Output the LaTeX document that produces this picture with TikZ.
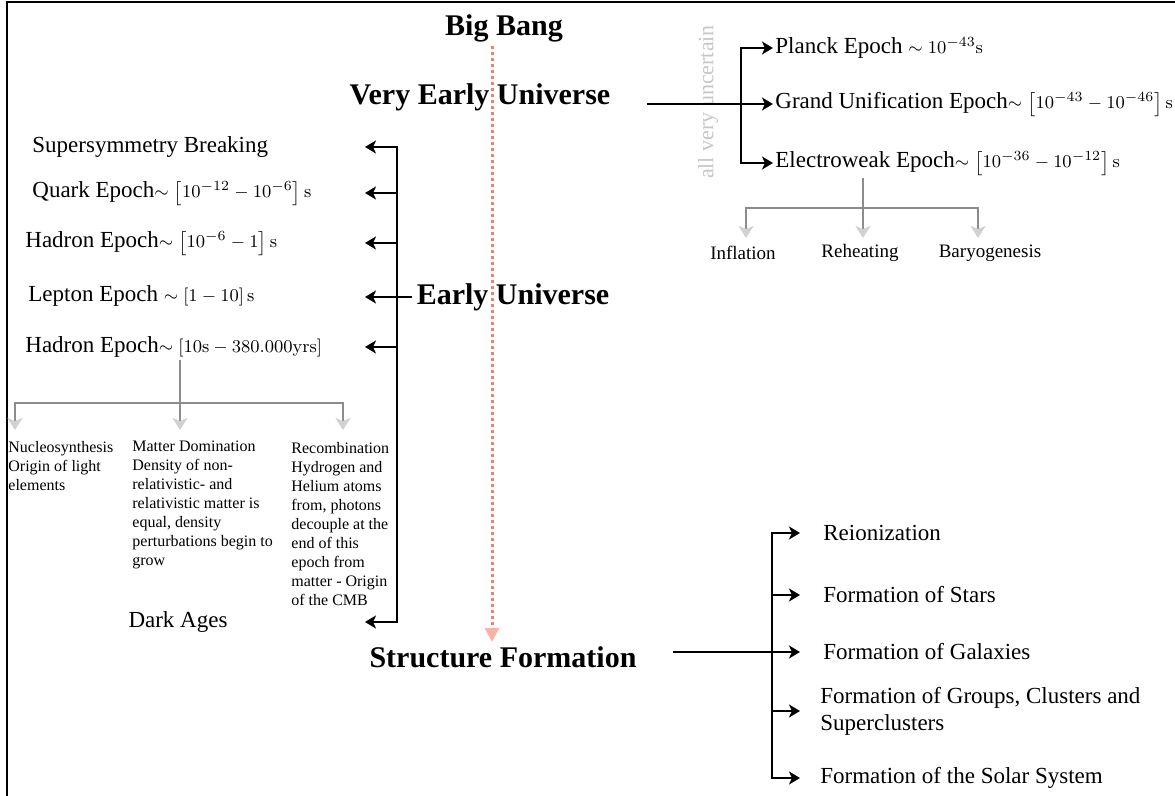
\documentclass[tikz,border=0pt]{standalone}
\usepackage[no-math]{fontspec}
\setmainfont{Liberation Serif}
\usetikzlibrary{arrows.meta}

\definecolor{salmone}{RGB}{240,128,110}
\definecolor{salmonechiaro}{RGB}{247,180,165}

% formule un po' piu' piccole del testo
\newcommand{\epmath}[1]{{\fontsize{9.5}{11}\selectfont$#1$}}

\begin{document}
\begin{tikzpicture}[x=0.5pt, y=-0.5pt,
    titolo/.style={font=\fontsize{15}{18}\selectfont\bfseries, inner sep=2pt},
    voce/.style={font=\fontsize{11.5}{13.5}\selectfont, anchor=west, inner sep=1pt, align=left},
    piccolo/.style={font=\fontsize{8}{9.5}\selectfont, anchor=north west, inner sep=0pt, align=left},
    sotto/.style={font=\fontsize{9.5}{11}\selectfont, inner sep=2pt},
    ramo/.style={line width=1.3pt},
    freccia/.style={ramo, -{Stealth[length=5.5pt,width=6.5pt,inset=1.5pt]}},
    grigio/.style={draw=black!45, line width=1pt},
    grigiofr/.style={grigio, -{Stealth[length=6pt,width=7.5pt,inset=1.5pt,color=black!18]}},
    tempo/.style={draw=salmone, line width=1.5pt, dash pattern=on 1.5pt off 1.5pt,
        -{Triangle[length=7pt,width=7pt,color=salmonechiaro]}}]
    \useasboundingbox (0,0) rectangle (1175,796);

    % --- Cornice (si vedono solo il lato sinistro e quello in alto) ---
    \draw[line width=1pt] (7,796) -- (7,2) -- (1175,2);

    % --- Titoli principali ---
    \node[titolo] (bigbang) at (504,28) {Big Bang};
    \node[titolo] (very) at (480,97) {Very Early Universe};
    \node[titolo] (early) at (513,297) {Early Universe};
    \node[titolo] (struct) at (503,657) {Structure Formation};

    % Linea del tempo tratteggiata
    \coordinate (tl) at (492,0);
    \draw[tempo] (bigbang.south -| tl) -- (struct.north -| tl);

    % --- Very Early Universe: le tre epoche a destra ---
    \node[rotate=90, text=black!22, font=\fontsize{11}{13}\selectfont] (unc) at (708,102) {all very uncertain};
    \node[voce] (planck) at (773,48) {Planck Epoch \epmath{\sim 10^{-43}\mathrm{s}}};
    \node[voce] (gut) at (773,104) {Grand Unification Epoch\epmath{\sim\bigl[10^{-43}-10^{-46}\bigr]\,\mathrm{s}}};
    \node[voce] (ew) at (773,163) {Electroweak Epoch\epmath{\sim\bigl[10^{-36}-10^{-12}\bigr]\,\mathrm{s}}};

    \coordinate (vo) at ([xshift=16pt]very.east);
    \coordinate (vj) at (741,104);
    \draw[freccia] (vo |- gut) -- (gut.west);
    \draw[freccia] (vj) |- (planck.west);
    \draw[freccia] (vj) |- (ew.west);

    % Ramo grigio sotto l'epoca elettrodebole
    \node[sotto] (infl) at (743,253) {Inflation};
    \node[sotto] (reh) at (860,253) {Reheating};
    \node[sotto] (baryo) at (990,253) {Baryogenesis};
    \coordinate (eb) at (863,208);
    \coordinate (infl-tip) at (746,238);
    \coordinate (reh-tip) at (863,238);
    \coordinate (baryo-tip) at (978,238);
    \draw[grigio] (ew.south -| eb) -- (eb);
    \draw[grigiofr] (eb) -| (infl-tip);
    \draw[grigiofr] (eb) -- (reh-tip);
    \draw[grigiofr] (eb) -| (baryo-tip);

    % --- Early Universe: le epoche a sinistra ---
    \node[voce] (susy) at (30,147) {Supersymmetry Breaking};
    \node[voce] (quark) at (30,193) {Quark Epoch\epmath{\sim\bigl[10^{-12}-10^{-6}\bigr]\,\mathrm{s}}};
    \node[voce] (hadron) at (23,243) {Hadron Epoch\epmath{\sim\bigl[10^{-6}-1\bigr]\,\mathrm{s}}};
    \node[voce] (lepton) at (26,296) {Lepton Epoch \epmath{\sim[1-10]\,\mathrm{s}}};
    \node[voce] (hadronb) at (23,347) {Hadron Epoch\epmath{\sim[10\mathrm{s}-380.000\mathrm{yrs}]}};
    \node[voce, anchor=center] (dark) at (178,622) {Dark Ages};

    \coordinate (sx) at (365,0);
    \coordinate (ej) at (397,297);
    \draw[freccia] (ej) |- (susy -| sx);
    \draw[freccia] (ej) |- (dark -| sx);
    \draw[freccia] (quark -| ej) -- (quark -| sx);
    \draw[freccia] (hadron -| ej) -- (hadron -| sx);
    \draw[freccia] (hadronb -| ej) -- (hadronb -| sx);
    \draw[freccia] (early.west) -- (early.west -| sx);

    % Ramo grigio sotto la seconda Hadron Epoch
    \node[piccolo] (nucleo) at (8,441) {Nucleosynthesis\\Origin of light\\elements};
    \node[piccolo] (materia) at (132,441) {Matter Domination\\Density of non-\\relativistic- and\\relativistic matter is\\equal, density\\perturbations begin to\\grow};
    \node[piccolo] (ricomb) at (291,442) {Recombination\\Hydrogen and\\Helium atoms\\from, photons\\decouple at the\\end of this\\epoch from\\matter - Origin\\of the CMB};
    \coordinate (hb) at (180,403);
    \coordinate (nucleo-tip) at (15,430);
    \coordinate (materia-tip) at (180,430);
    \coordinate (ricomb-tip) at (343,430);
    \draw[grigio] (hadronb.south -| hb) -- (hb);
    \draw[grigiofr] (hb) -| (nucleo-tip);
    \draw[grigiofr] (hb) -- (materia-tip);
    \draw[grigiofr] (hb) -| (ricomb-tip);

    % --- Structure Formation: elenco a destra ---
    \node[voce] (reion) at (821,533) {Reionization};
    \node[voce] (stars) at (821,595) {Formation of Stars};
    \node[voce] (gal) at (821,652) {Formation of Galaxies};
    \node[voce] (groups) at (818,711) {Formation of Groups, Clusters and\\Superclusters};
    \node[voce] (solar) at (818,778) {Formation of the Solar System};

    \coordinate (so) at ([xshift=16pt]struct.east);
    \coordinate (sj) at (772,652);
    \coordinate (stip) at (800,0);
    \draw[freccia] (so |- gal) -- (gal -| stip);
    \draw[freccia] (sj) |- (reion -| stip);
    \draw[freccia] (sj) |- (solar -| stip);
    \draw[freccia] (stars -| sj) -- (stars -| stip);
    \draw[freccia] (groups -| sj) -- (groups -| stip);

\end{tikzpicture}
\end{document}
